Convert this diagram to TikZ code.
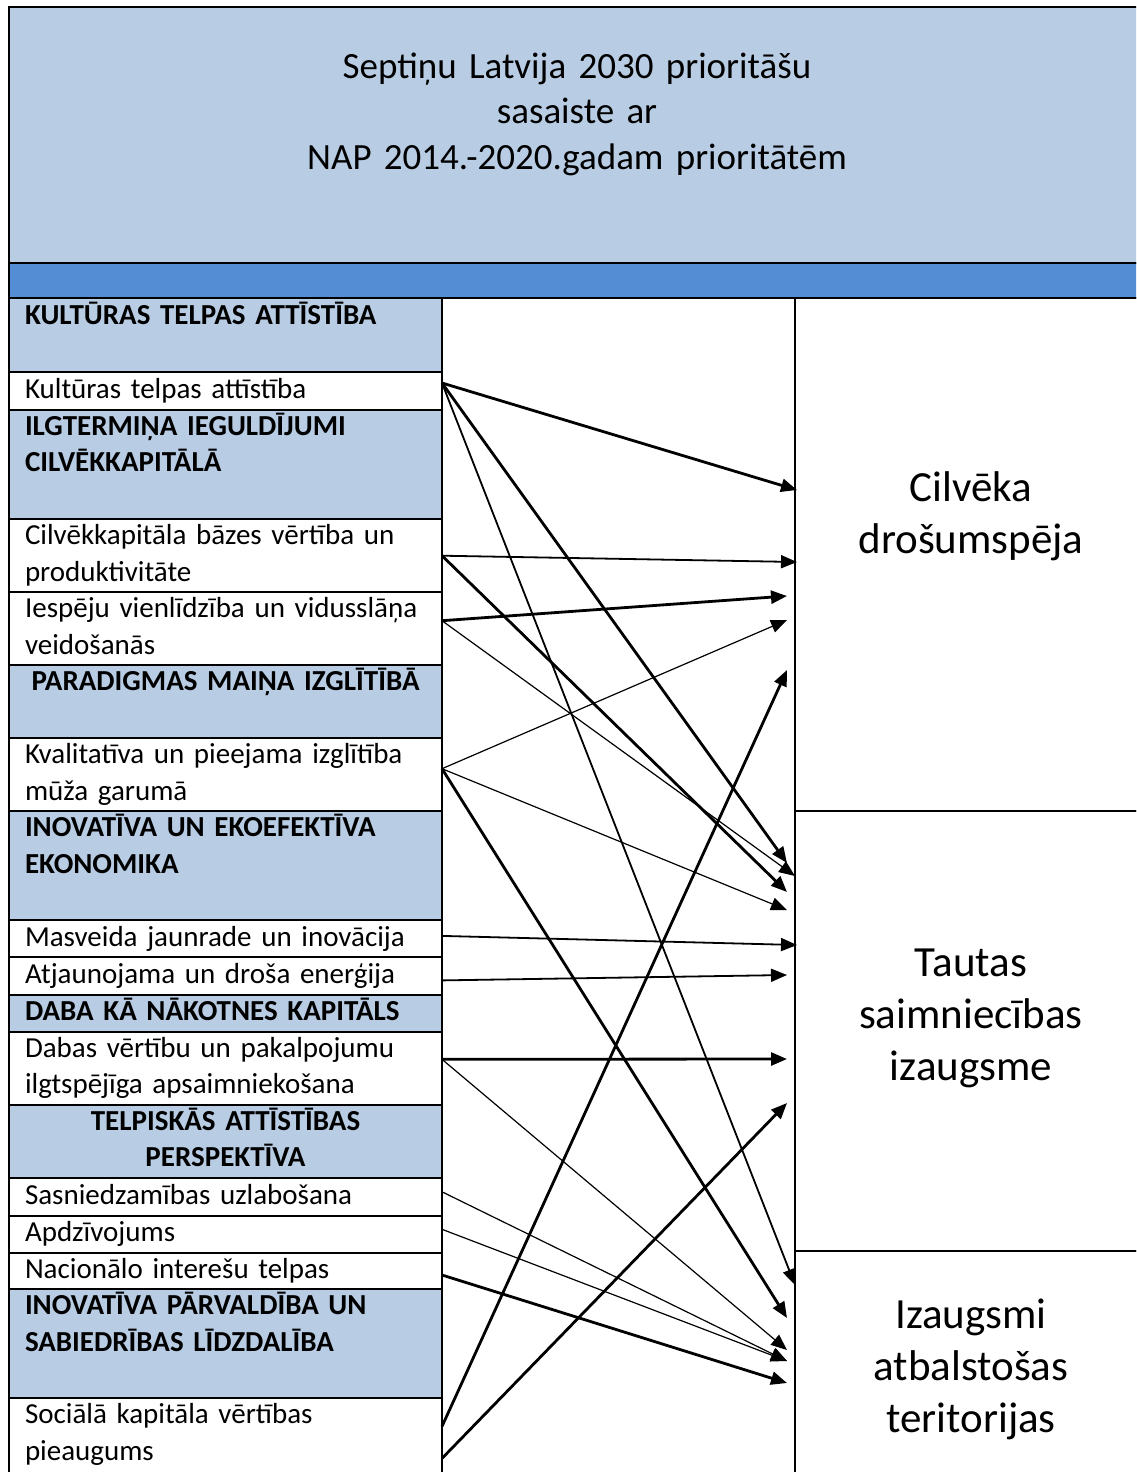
\documentclass[tikz,border=0pt]{standalone}
\usepackage{fontspec}
\setmainfont{Carlito}
\usetikzlibrary{positioning,arrows.meta}

\definecolor{rowblue}{HTML}{B8CCE4}
\definecolor{bandblue}{HTML}{548DD4}

\newcommand{\rowfont}{\fontsize{29}{36.4}\selectfont}
\newcommand{\goalfont}{\fontsize{43}{52}\selectfont}
\newcommand{\titlefont}{\fontsize{37}{45.5}\selectfont}

\tikzset{
  cell/.style={draw=black,line width=2pt,inner sep=0pt,outer sep=0pt},
  hdrow/.style={cell,fill=rowblue,font=\rowfont\bfseries,text width=401pt,inner xsep=16pt,
    align=left,minimum height=#1,execute at begin node=\strut,execute at end node=\strut},
  itrow/.style={cell,fill=white,font=\rowfont,text width=401pt,inner xsep=16pt,
    align=left,minimum height=#1,execute at begin node=\strut,execute at end node=\strut},
  goal/.style={cell,fill=white,minimum width=350pt,minimum height=#1},
  goaltext/.style={font=\goalfont,text width=340pt,align=center,inner sep=0pt,
    execute at begin node=\strut,execute at end node=\strut},
  tipfix/.tip={Triangle[length=16pt,width=13pt]},
  thinarr/.style={line width=1.2pt,-tipfix},
  midarr/.style={line width=1.8pt,-tipfix},
  boldarr/.style={line width=2.8pt,-tipfix}
}

\begin{document}
\begin{tikzpicture}[x=1pt,y=-1pt]
\useasboundingbox (0,0) rectangle (1136,1472);
\fill[white] (0,0) rectangle (1136,1472);
\clip (0,0) rectangle (1136,1472);

\node[cell,fill=rowblue,minimum width=1136pt,minimum height=256pt,anchor=north west] (head) at (9,7) {};
\node[font=\titlefont,text width=1000pt,align=center,inner sep=0pt,
  execute at begin node=\strut,execute at end node=\strut] (title) at (577,114.5)
  {Septiņu Latvija 2030 prioritāšu\\sasaiste ar\\NAP 2014.-2020.gadam prioritātēm};
\node[cell,fill=bandblue,minimum width=1136pt,minimum height=35pt,below=0pt of head] (band) {};

\node[cell,minimum width=353pt,minimum height=1200pt,anchor=north west] (mid) at (442,298) {};

\node[hdrow=74pt,anchor=north west] (kth) at (9,298) {KULTŪRAS TELPAS ATTĪSTĪBA\\};
\node[itrow=38pt,below=0pt of kth] (kt) {Kultūras telpas attīstība};
\node[hdrow=109pt,below=0pt of kt] (ilh) {ILGTERMIŅA IEGULDĪJUMI\\CILVĒKKAPITĀLĀ\\};
\node[itrow=73pt,below=0pt of ilh] (cb) {Cilvēkkapitāla bāzes vērtība un\\produktivitāte};
\node[itrow=73pt,below=0pt of cb] (iv) {Iespēju vienlīdzība un vidusslāņa\\veidošanās};
\node[hdrow=73pt,align=center,below=0pt of iv] (pmh) {PARADIGMAS MAIŅA IZGLĪTĪBĀ\\};
\node[itrow=73pt,below=0pt of pmh] (ki) {Kvalitatīva un pieejama izglītība\\mūža garumā};
\node[hdrow=109pt,below=0pt of ki] (ieh) {INOVATĪVA UN EKOEFEKTĪVA\\EKONOMIKA\\};
\node[itrow=37pt,below=0pt of ieh] (mj) {Masveida jaunrade un inovācija};
\node[itrow=38pt,below=0pt of mj] (ae) {Atjaunojama un droša enerģija};
\node[hdrow=36pt,below=0pt of ae] (dkh) {DABA KĀ NĀKOTNES KAPITĀLS};
\node[itrow=73pt,below=0pt of dkh] (dv) {Dabas vērtību un pakalpojumu\\ilgtspējīga apsaimniekošana};
\node[hdrow=73pt,align=center,below=0pt of dv] (tah) {TELPISKĀS ATTĪSTĪBAS\\PERSPEKTĪVA};
\node[itrow=38pt,below=0pt of tah] (su) {Sasniedzamības uzlabošana};
\node[itrow=37pt,below=0pt of su] (ap) {Apdzīvojums};
\node[itrow=36pt,below=0pt of ap] (nt) {Nacionālo interešu telpas};
\node[hdrow=109pt,below=0pt of nt] (iph) {INOVATĪVA PĀRVALDĪBA UN\\SABIEDRĪBAS LĪDZDALĪBA\\};
\node[itrow=109pt,below=0pt of iph] (sk) {Sociālā kapitāla vērtības\\pieaugums\\};

\node[goal=513pt,anchor=north west] (cd) at (795,298) {};
\node[goal=440pt,below=0pt of cd] (ts) {};
\node[goal=240pt,below=0pt of ts] (it) {};
\node[goaltext] (cdt) at (971,516.6) {Cilvēka\\drošumspēja};
\node[goaltext] (tst) at (971,1017.6) {Tautas\\saimniecības\\izaugsme};
\node[goaltext] (itt) at (971,1370) {Izaugsmi\\atbalstošas\\teritorijas};

\coordinate (cd1) at (797,490);
\coordinate (cd2) at (797,562);
\coordinate (cd3) at (787,596);
\coordinate (cd4) at (787,620);
\coordinate (cd5) at (787,670);
\coordinate (ts1) at (787,863);
\coordinate (ts2) at (795,876);
\coordinate (ts3) at (787,892);
\coordinate (ts4) at (787,910);
\coordinate (ts5) at (797,945);
\coordinate (ts6) at (787,975);
\coordinate (ts7) at (787,1059);
\coordinate (ts8) at (787,1103);
\coordinate (it1) at (795,1285);
\coordinate (it2) at (787,1318);
\coordinate (it3) at (787,1350);
\coordinate (it4) at (787,1361);
\coordinate (it5) at (787,1383);

\draw[boldarr] ([yshift=8pt]kt.east) -- (cd1);
\draw[boldarr] ([yshift=8pt]kt.east) -- (ts1);
\draw[midarr] ([yshift=8pt]kt.east) -- (it1);
\draw[midarr] (cb.east) -- (cd2);
\draw[boldarr] (cb.east) -- (ts3);
\draw[boldarr] ([yshift=8pt]iv.east) -- (cd3);
\draw[thinarr] ([yshift=8pt]iv.east) -- (ts2);
\draw[thinarr] ([yshift=6pt]ki.east) -- (cd4);
\draw[thinarr] ([yshift=6pt]ki.east) -- (ts4);
\draw[boldarr] ([yshift=6pt]ki.east) -- (it2);
\draw[midarr] ([yshift=3pt]mj.east) -- (ts5);
\draw[midarr] ([yshift=-4pt]ae.east) -- (ts6);
\draw[boldarr] ([yshift=9pt]dv.east) -- (ts7);
\draw[thinarr] ([yshift=9pt]dv.east) -- (it3);
\draw[thinarr] ([yshift=5pt]su.east) -- (it4);
\draw[thinarr] ([yshift=5pt]ap.east) -- (it4);
\draw[boldarr] ([yshift=-4pt]nt.east) -- (it5);
\draw[boldarr] ([yshift=-28pt]sk.north east) -- (cd5);
\draw[boldarr] ([yshift=-60pt]sk.north east) -- (ts8);
\end{tikzpicture}
\end{document}
